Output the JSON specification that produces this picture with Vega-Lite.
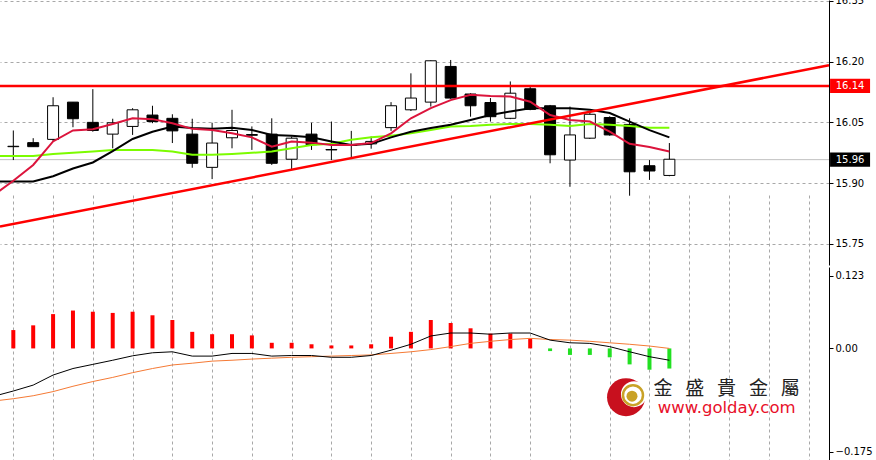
{
  "$schema": "https://vega.github.io/schema/vega-lite/v6.json",
  "width": 829,
  "height": 460,
  "autosize": {"type": "none"},
  "padding": {"left": 0, "top": 0, "right": 47, "bottom": 0},
  "background": "white",
  "config": {
    "view": {"stroke": null},
    "axis": {"labelFont": "DejaVu Sans", "labelFontSize": 10, "labelColor": "#000000", "domainColor": "#000000", "tickColor": "#000000", "tickSize": 4, "labelPadding": 2, "gridColor": "#a8a8a8", "gridDash": [3, 3], "domainWidth": 1, "tickWidth": 1},
    "axisX": {"labels": false, "ticks": false, "domain": false, "grid": true}
  },
  "datasets": {
    "candles": [
      {"i": 0, "o": 15.990, "h": 16.030, "l": 15.957, "c": 15.991},
      {"i": 1, "o": 16.000, "h": 16.011, "l": 15.990, "c": 15.990},
      {"i": 2, "o": 16.008, "h": 16.112, "l": 16.003, "c": 16.091},
      {"i": 3, "o": 16.100, "h": 16.100, "l": 16.038, "c": 16.059},
      {"i": 4, "o": 16.050, "h": 16.132, "l": 16.027, "c": 16.030},
      {"i": 5, "o": 16.021, "h": 16.059, "l": 15.986, "c": 16.049},
      {"i": 6, "o": 16.040, "h": 16.085, "l": 16.019, "c": 16.081},
      {"i": 7, "o": 16.068, "h": 16.091, "l": 16.048, "c": 16.052},
      {"i": 8, "o": 16.060, "h": 16.070, "l": 15.999, "c": 16.029},
      {"i": 9, "o": 16.021, "h": 16.059, "l": 15.938, "c": 15.949},
      {"i": 10, "o": 15.939, "h": 16.049, "l": 15.910, "c": 15.999},
      {"i": 11, "o": 16.012, "h": 16.081, "l": 15.986, "c": 16.030},
      {"i": 12, "o": 16.018, "h": 16.040, "l": 15.982, "c": 16.020},
      {"i": 13, "o": 16.021, "h": 16.060, "l": 15.945, "c": 15.949},
      {"i": 14, "o": 15.959, "h": 16.015, "l": 15.934, "c": 16.011},
      {"i": 15, "o": 16.021, "h": 16.049, "l": 15.982, "c": 15.995},
      {"i": 16, "o": 15.982, "h": 16.052, "l": 15.957, "c": 15.983},
      {"i": 17, "o": 15.993, "h": 16.029, "l": 15.962, "c": 15.995},
      {"i": 18, "o": 15.997, "h": 16.015, "l": 15.985, "c": 16.003},
      {"i": 19, "o": 16.037, "h": 16.100, "l": 16.029, "c": 16.091},
      {"i": 20, "o": 16.081, "h": 16.171, "l": 16.078, "c": 16.110},
      {"i": 21, "o": 16.100, "h": 16.203, "l": 16.089, "c": 16.202},
      {"i": 22, "o": 16.188, "h": 16.204, "l": 16.108, "c": 16.110},
      {"i": 23, "o": 16.120, "h": 16.122, "l": 16.064, "c": 16.091},
      {"i": 24, "o": 16.099, "h": 16.110, "l": 16.052, "c": 16.064},
      {"i": 25, "o": 16.060, "h": 16.151, "l": 16.058, "c": 16.122},
      {"i": 26, "o": 16.133, "h": 16.138, "l": 16.080, "c": 16.082},
      {"i": 27, "o": 16.091, "h": 16.093, "l": 15.949, "c": 15.970},
      {"i": 28, "o": 15.957, "h": 16.089, "l": 15.891, "c": 16.019},
      {"i": 29, "o": 16.011, "h": 16.075, "l": 16.009, "c": 16.070},
      {"i": 30, "o": 16.062, "h": 16.065, "l": 16.017, "c": 16.019},
      {"i": 31, "o": 16.045, "h": 16.060, "l": 15.869, "c": 15.928},
      {"i": 32, "o": 15.943, "h": 15.957, "l": 15.908, "c": 15.930},
      {"i": 33, "o": 15.919, "h": 15.999, "l": 15.917, "c": 15.959}
    ],
    "ma": [
      {"i": -1, "red": 15.870, "black": 15.904, "green": 15.967},
      {"i": 0, "red": 15.906, "black": 15.904, "green": 15.967},
      {"i": 1, "red": 15.945, "black": 15.904, "green": 15.967},
      {"i": 2, "red": 16.003, "black": 15.917, "green": 15.972},
      {"i": 3, "red": 16.030, "black": 15.936, "green": 15.975},
      {"i": 4, "red": 16.033, "black": 15.951, "green": 15.978},
      {"i": 5, "red": 16.046, "black": 15.979, "green": 15.982},
      {"i": 6, "red": 16.060, "black": 16.009, "green": 15.982},
      {"i": 7, "red": 16.058, "black": 16.027, "green": 15.982},
      {"i": 8, "red": 16.048, "black": 16.040, "green": 15.978},
      {"i": 9, "red": 16.034, "black": 16.036, "green": 15.970},
      {"i": 10, "red": 16.031, "black": 16.034, "green": 15.970},
      {"i": 11, "red": 16.023, "black": 16.037, "green": 15.972},
      {"i": 12, "red": 16.013, "black": 16.031, "green": 15.975},
      {"i": 13, "red": 15.990, "black": 16.019, "green": 15.978},
      {"i": 14, "red": 16.003, "black": 16.017, "green": 15.986},
      {"i": 15, "red": 16.000, "black": 16.013, "green": 15.994},
      {"i": 16, "red": 15.994, "black": 16.003, "green": 15.997},
      {"i": 17, "red": 15.994, "black": 15.994, "green": 16.007},
      {"i": 18, "red": 15.999, "black": 15.997, "green": 16.013},
      {"i": 19, "red": 16.023, "black": 16.013, "green": 16.017},
      {"i": 20, "red": 16.060, "black": 16.027, "green": 16.023},
      {"i": 21, "red": 16.085, "black": 16.036, "green": 16.031},
      {"i": 22, "red": 16.105, "black": 16.044, "green": 16.040},
      {"i": 23, "red": 16.118, "black": 16.056, "green": 16.041},
      {"i": 24, "red": 16.115, "black": 16.068, "green": 16.044},
      {"i": 25, "red": 16.114, "black": 16.077, "green": 16.046},
      {"i": 26, "red": 16.101, "black": 16.085, "green": 16.046},
      {"i": 27, "red": 16.068, "black": 16.085, "green": 16.044},
      {"i": 28, "red": 16.056, "black": 16.085, "green": 16.041},
      {"i": 29, "red": 16.052, "black": 16.081, "green": 16.046},
      {"i": 30, "red": 16.027, "black": 16.073, "green": 16.044},
      {"i": 31, "red": 15.997, "black": 16.052, "green": 16.041},
      {"i": 32, "red": 15.989, "black": 16.031, "green": 16.037},
      {"i": 33, "red": 15.978, "black": 16.013, "green": 16.037}
    ],
    "macd": [
      {"i": -1, "h": null, "m": -0.081, "s": -0.089},
      {"i": 0, "h": 0.031, "m": -0.072, "s": -0.085},
      {"i": 1, "h": 0.039, "m": -0.062, "s": -0.080},
      {"i": 2, "h": 0.058, "m": -0.045, "s": -0.073},
      {"i": 3, "h": 0.064, "m": -0.034, "s": -0.064},
      {"i": 4, "h": 0.062, "m": -0.027, "s": -0.056},
      {"i": 5, "h": 0.060, "m": -0.020, "s": -0.049},
      {"i": 6, "h": 0.062, "m": -0.0125, "s": -0.041},
      {"i": 7, "h": 0.056, "m": -0.0074, "s": -0.034},
      {"i": 8, "h": 0.048, "m": -0.0057, "s": -0.028},
      {"i": 9, "h": 0.028, "m": -0.013, "s": -0.025},
      {"i": 10, "h": 0.024, "m": -0.013, "s": -0.0215},
      {"i": 11, "h": 0.024, "m": -0.0085, "s": -0.020},
      {"i": 12, "h": 0.022, "m": -0.0085, "s": -0.018},
      {"i": 13, "h": 0.0095, "m": -0.013, "s": -0.0165},
      {"i": 14, "h": 0.0095, "m": -0.012, "s": -0.015},
      {"i": 15, "h": 0.007, "m": -0.012, "s": -0.014},
      {"i": 16, "h": 0.005, "m": -0.015, "s": -0.013},
      {"i": 17, "h": 0.005, "m": -0.015, "s": -0.012},
      {"i": 18, "h": 0.007, "m": -0.012, "s": -0.011},
      {"i": 19, "h": 0.0197, "m": -0.003, "s": -0.0085},
      {"i": 20, "h": 0.028, "m": 0.007, "s": -0.0057},
      {"i": 21, "h": 0.048, "m": 0.021, "s": -0.002},
      {"i": 22, "h": 0.043, "m": 0.026, "s": 0.003},
      {"i": 23, "h": 0.034, "m": 0.026, "s": 0.0085},
      {"i": 24, "h": 0.025, "m": 0.024, "s": 0.012},
      {"i": 25, "h": 0.025, "m": 0.026, "s": 0.015},
      {"i": 26, "h": 0.017, "m": 0.026, "s": 0.017},
      {"i": 27, "h": -0.0045, "m": 0.014, "s": 0.015},
      {"i": 28, "h": -0.011, "m": 0.0095, "s": 0.014},
      {"i": 29, "h": -0.011, "m": 0.0085, "s": 0.012},
      {"i": 30, "h": -0.015, "m": 0.003, "s": 0.0095},
      {"i": 31, "h": -0.027, "m": -0.0057, "s": 0.007},
      {"i": 32, "h": -0.036, "m": -0.014, "s": 0.004},
      {"i": 33, "h": -0.034, "m": -0.020, "s": 0.000}
    ],
    "trend": [
      {"i": -0.67, "p": 15.793},
      {"i": 41.03, "p": 16.191}
    ],
    "levels": [
      {"price": 16.14, "label": "16.14", "kind": "res"},
      {"price": 15.958, "label": "15.96", "kind": "last"}
    ],
    "brand": [
      {"part": "name", "text": "金\u00a0\u00a0\u00a0盛\u00a0\u00a0\u00a0貴\u00a0\u00a0\u00a0金\u00a0\u00a0\u00a0屬"},
      {"part": "url", "text": "www.golday.com"}
    ]
  },
  "layer": [
    {
      "layer": [
        {
          "data": {"name": "levels"},
          "transform": [{"filter": "datum.kind == 'last'"}],
          "mark": {"type": "rule", "color": "#c0c0c0", "strokeWidth": 1},
          "encoding": {
            "y": {"field": "price", "type": "quantitative", "scale": {"domain": [15.698, 16.352], "range": [265, 0], "nice": false, "zero": false}, "axis": {"orient": "right", "values": [16.35, 16.2, 16.05, 15.9, 15.75], "format": ".2f", "title": null, "grid": true}}
          }
        },
        {
          "data": {"name": "candles"},
          "mark": {"type": "rule", "color": "#000000", "strokeWidth": 1},
          "encoding": {
            "x": {"field": "i", "type": "quantitative", "scale": {"domain": [-0.67, 41.03], "nice": false, "zero": false, "padding": 0}, "axis": {"values": [0, 2, 4, 6, 8, 10, 12, 14, 16, 18, 20, 22, 24, 26, 28, 30, 32, 34, 36, 38, 40], "title": null}},
            "y": {"field": "l", "type": "quantitative", "scale": {"domain": [15.698, 16.352], "range": [265, 0], "nice": false, "zero": false}, "axis": {"orient": "right", "values": [16.35, 16.2, 16.05, 15.9, 15.75], "format": ".2f", "title": null, "grid": true}},
            "y2": {"field": "h"}
          }
        },
        {
          "data": {"name": "candles"},
          "mark": {"type": "bar", "size": 11, "stroke": "#000000", "strokeWidth": 1},
          "encoding": {
            "x": {"field": "i", "type": "quantitative", "scale": {"domain": [-0.67, 41.03], "nice": false, "zero": false, "padding": 0}, "axis": {"values": [0, 2, 4, 6, 8, 10, 12, 14, 16, 18, 20, 22, 24, 26, 28, 30, 32, 34, 36, 38, 40], "title": null}},
            "y": {"field": "o", "type": "quantitative", "scale": {"domain": [15.698, 16.352], "range": [265, 0], "nice": false, "zero": false}, "axis": {"orient": "right", "values": [16.35, 16.2, 16.05, 15.9, 15.75], "format": ".2f", "title": null, "grid": true}},
            "y2": {"field": "c"},
            "fill": {"condition": {"test": "datum.c >= datum.o", "value": "#ffffff"}, "value": "#000000"}
          }
        },
        {
          "data": {"name": "ma"},
          "mark": {"type": "line", "color": "#7cfc00", "strokeWidth": 2},
          "encoding": {
            "x": {"field": "i", "type": "quantitative", "scale": {"domain": [-0.67, 41.03], "nice": false, "zero": false, "padding": 0}, "axis": {"values": [0, 2, 4, 6, 8, 10, 12, 14, 16, 18, 20, 22, 24, 26, 28, 30, 32, 34, 36, 38, 40], "title": null}},
            "y": {"field": "green", "type": "quantitative", "scale": {"domain": [15.698, 16.352], "range": [265, 0], "nice": false, "zero": false}, "axis": {"orient": "right", "values": [16.35, 16.2, 16.05, 15.9, 15.75], "format": ".2f", "title": null, "grid": true}}
          }
        },
        {
          "data": {"name": "ma"},
          "mark": {"type": "line", "color": "#000000", "strokeWidth": 2},
          "encoding": {
            "x": {"field": "i", "type": "quantitative", "scale": {"domain": [-0.67, 41.03], "nice": false, "zero": false, "padding": 0}, "axis": {"values": [0, 2, 4, 6, 8, 10, 12, 14, 16, 18, 20, 22, 24, 26, 28, 30, 32, 34, 36, 38, 40], "title": null}},
            "y": {"field": "black", "type": "quantitative", "scale": {"domain": [15.698, 16.352], "range": [265, 0], "nice": false, "zero": false}, "axis": {"orient": "right", "values": [16.35, 16.2, 16.05, 15.9, 15.75], "format": ".2f", "title": null, "grid": true}}
          }
        },
        {
          "data": {"name": "ma"},
          "mark": {"type": "line", "color": "#dc143c", "strokeWidth": 2},
          "encoding": {
            "x": {"field": "i", "type": "quantitative", "scale": {"domain": [-0.67, 41.03], "nice": false, "zero": false, "padding": 0}, "axis": {"values": [0, 2, 4, 6, 8, 10, 12, 14, 16, 18, 20, 22, 24, 26, 28, 30, 32, 34, 36, 38, 40], "title": null}},
            "y": {"field": "red", "type": "quantitative", "scale": {"domain": [15.698, 16.352], "range": [265, 0], "nice": false, "zero": false}, "axis": {"orient": "right", "values": [16.35, 16.2, 16.05, 15.9, 15.75], "format": ".2f", "title": null, "grid": true}}
          }
        },
        {
          "data": {"name": "trend"},
          "mark": {"type": "line", "color": "#ff0000", "strokeWidth": 2.5},
          "encoding": {
            "x": {"field": "i", "type": "quantitative", "scale": {"domain": [-0.67, 41.03], "nice": false, "zero": false, "padding": 0}, "axis": {"values": [0, 2, 4, 6, 8, 10, 12, 14, 16, 18, 20, 22, 24, 26, 28, 30, 32, 34, 36, 38, 40], "title": null}},
            "y": {"field": "p", "type": "quantitative", "scale": {"domain": [15.698, 16.352], "range": [265, 0], "nice": false, "zero": false}, "axis": {"orient": "right", "values": [16.35, 16.2, 16.05, 15.9, 15.75], "format": ".2f", "title": null, "grid": true}}
          }
        },
        {
          "data": {"name": "levels"},
          "transform": [{"filter": "datum.kind == 'res'"}],
          "mark": {"type": "rule", "color": "#ff0000", "strokeWidth": 2.5},
          "encoding": {
            "y": {"field": "price", "type": "quantitative", "scale": {"domain": [15.698, 16.352], "range": [265, 0], "nice": false, "zero": false}, "axis": {"orient": "right", "values": [16.35, 16.2, 16.05, 15.9, 15.75], "format": ".2f", "title": null, "grid": true}}
          }
        },
        {
          "data": {"name": "levels"},
          "mark": {"type": "point", "shape": "M-1,-0.36H1V0.36H-1Z", "size": 1600, "filled": true, "opacity": 1, "strokeWidth": 0},
          "encoding": {
            "x": {"datum": 42.09, "type": "quantitative", "scale": {"domain": [-0.67, 41.03], "nice": false, "zero": false, "padding": 0}, "axis": {"values": [0, 2, 4, 6, 8, 10, 12, 14, 16, 18, 20, 22, 24, 26, 28, 30, 32, 34, 36, 38, 40], "title": null}},
            "y": {"field": "price", "type": "quantitative", "scale": {"domain": [15.698, 16.352], "range": [265, 0], "nice": false, "zero": false}, "axis": {"orient": "right", "values": [16.35, 16.2, 16.05, 15.9, 15.75], "format": ".2f", "title": null, "grid": true}},
            "fill": {"condition": {"test": "datum.kind == 'res'", "value": "#ff0000"}, "value": "#000000"}
          }
        },
        {
          "data": {"name": "levels"},
          "mark": {"type": "text", "color": "#ffffff", "font": "DejaVu Sans", "fontSize": 10, "align": "center", "baseline": "middle"},
          "encoding": {
            "x": {"datum": 42.09, "type": "quantitative", "scale": {"domain": [-0.67, 41.03], "nice": false, "zero": false, "padding": 0}, "axis": {"values": [0, 2, 4, 6, 8, 10, 12, 14, 16, 18, 20, 22, 24, 26, 28, 30, 32, 34, 36, 38, 40], "title": null}},
            "y": {"field": "price", "type": "quantitative", "scale": {"domain": [15.698, 16.352], "range": [265, 0], "nice": false, "zero": false}, "axis": {"orient": "right", "values": [16.35, 16.2, 16.05, 15.9, 15.75], "format": ".2f", "title": null, "grid": true}},
            "text": {"field": "label"}
          }
        },
        {
          "mark": {"type": "rule", "color": "#000000", "strokeWidth": 1},
          "encoding": {
            "y": {"datum": 15.698, "type": "quantitative", "scale": {"domain": [15.698, 16.352], "range": [265, 0], "nice": false, "zero": false}, "axis": {"orient": "right", "values": [16.35, 16.2, 16.05, 15.9, 15.75], "format": ".2f", "title": null, "grid": true}}
          }
        }
      ]
    },
    {
      "layer": [
        {
          "mark": {"type": "rule", "color": "#a8a8a8", "strokeDash": [3, 3], "strokeWidth": 1},
          "encoding": {
            "y": {"datum": 0, "type": "quantitative", "scale": {"domain": [-0.1886, 0.1376], "range": [460, 267], "nice": false, "zero": false}, "axis": {"orient": "right", "values": [0.123, 0, -0.175], "labelExpr": "datum.value == 0 ? '0.00' : format(datum.value, '.3f')", "title": null, "grid": false}}
          }
        },
        {
          "mark": {"type": "rule", "color": "#000000", "strokeWidth": 1},
          "encoding": {
            "y": {"datum": 0.1376, "type": "quantitative", "scale": {"domain": [-0.1886, 0.1376], "range": [460, 267], "nice": false, "zero": false}, "axis": {"orient": "right", "values": [0.123, 0, -0.175], "labelExpr": "datum.value == 0 ? '0.00' : format(datum.value, '.3f')", "title": null, "grid": false}}
          }
        },
        {
          "data": {"name": "macd"},
          "transform": [{"filter": "datum.h != null"}],
          "mark": {"type": "bar", "size": 4},
          "encoding": {
            "x": {"field": "i", "type": "quantitative", "scale": {"domain": [-0.67, 41.03], "nice": false, "zero": false, "padding": 0}, "axis": {"values": [0, 2, 4, 6, 8, 10, 12, 14, 16, 18, 20, 22, 24, 26, 28, 30, 32, 34, 36, 38, 40], "title": null}},
            "y": {"field": "h", "type": "quantitative", "scale": {"domain": [-0.1886, 0.1376], "range": [460, 267], "nice": false, "zero": false}, "axis": {"orient": "right", "values": [0.123, 0, -0.175], "labelExpr": "datum.value == 0 ? '0.00' : format(datum.value, '.3f')", "title": null, "grid": false}},
            "y2": {"datum": 0},
            "color": {"condition": {"test": "datum.h > 0", "value": "#ff0000"}, "value": "#22e022"}
          }
        },
        {
          "data": {"name": "macd"},
          "mark": {"type": "line", "color": "#f57a35", "strokeWidth": 1},
          "encoding": {
            "x": {"field": "i", "type": "quantitative", "scale": {"domain": [-0.67, 41.03], "nice": false, "zero": false, "padding": 0}, "axis": {"values": [0, 2, 4, 6, 8, 10, 12, 14, 16, 18, 20, 22, 24, 26, 28, 30, 32, 34, 36, 38, 40], "title": null}},
            "y": {"field": "s", "type": "quantitative", "scale": {"domain": [-0.1886, 0.1376], "range": [460, 267], "nice": false, "zero": false}, "axis": {"orient": "right", "values": [0.123, 0, -0.175], "labelExpr": "datum.value == 0 ? '0.00' : format(datum.value, '.3f')", "title": null, "grid": false}}
          }
        },
        {
          "data": {"name": "macd"},
          "mark": {"type": "line", "color": "#000000", "strokeWidth": 1},
          "encoding": {
            "x": {"field": "i", "type": "quantitative", "scale": {"domain": [-0.67, 41.03], "nice": false, "zero": false, "padding": 0}, "axis": {"values": [0, 2, 4, 6, 8, 10, 12, 14, 16, 18, 20, 22, 24, 26, 28, 30, 32, 34, 36, 38, 40], "title": null}},
            "y": {"field": "m", "type": "quantitative", "scale": {"domain": [-0.1886, 0.1376], "range": [460, 267], "nice": false, "zero": false}, "axis": {"orient": "right", "values": [0.123, 0, -0.175], "labelExpr": "datum.value == 0 ? '0.00' : format(datum.value, '.3f')", "title": null, "grid": false}}
          }
        },
        {
          "data": {"values": [{"logo": "golday"}]},
          "mark": {"type": "point", "shape": "circle", "size": 1444, "filled": true, "color": "#c8101e", "opacity": 1},
          "encoding": {
            "x": {"datum": 30.82, "type": "quantitative", "scale": {"domain": [-0.67, 41.03], "nice": false, "zero": false, "padding": 0}, "axis": {"values": [0, 2, 4, 6, 8, 10, 12, 14, 16, 18, 20, 22, 24, 26, 28, 30, 32, 34, 36, 38, 40], "title": null}},
            "y": {"datum": -0.0824, "type": "quantitative", "scale": {"domain": [-0.1886, 0.1376], "range": [460, 267], "nice": false, "zero": false}, "axis": {"orient": "right", "values": [0.123, 0, -0.175], "labelExpr": "datum.value == 0 ? '0.00' : format(datum.value, '.3f')", "title": null, "grid": false}}
          }
        },
        {
          "data": {"values": [{"logo": "golday"}]},
          "mark": {"type": "point", "shape": "circle", "size": 676, "filled": true, "color": "#ffffff", "opacity": 1},
          "encoding": {
            "x": {"datum": 31.22, "type": "quantitative", "scale": {"domain": [-0.67, 41.03], "nice": false, "zero": false, "padding": 0}, "axis": {"values": [0, 2, 4, 6, 8, 10, 12, 14, 16, 18, 20, 22, 24, 26, 28, 30, 32, 34, 36, 38, 40], "title": null}},
            "y": {"datum": -0.0773, "type": "quantitative", "scale": {"domain": [-0.1886, 0.1376], "range": [460, 267], "nice": false, "zero": false}, "axis": {"orient": "right", "values": [0.123, 0, -0.175], "labelExpr": "datum.value == 0 ? '0.00' : format(datum.value, '.3f')", "title": null, "grid": false}}
          }
        },
        {
          "data": {"values": [{"logo": "golday"}]},
          "mark": {"type": "point", "shape": "circle", "size": 400, "filled": false, "stroke": "#c9a227", "strokeWidth": 2.5, "opacity": 1},
          "encoding": {
            "x": {"datum": 31.17, "type": "quantitative", "scale": {"domain": [-0.67, 41.03], "nice": false, "zero": false, "padding": 0}, "axis": {"values": [0, 2, 4, 6, 8, 10, 12, 14, 16, 18, 20, 22, 24, 26, 28, 30, 32, 34, 36, 38, 40], "title": null}},
            "y": {"datum": -0.079, "type": "quantitative", "scale": {"domain": [-0.1886, 0.1376], "range": [460, 267], "nice": false, "zero": false}, "axis": {"orient": "right", "values": [0.123, 0, -0.175], "labelExpr": "datum.value == 0 ? '0.00' : format(datum.value, '.3f')", "title": null, "grid": false}}
          }
        },
        {
          "data": {"values": [{"logo": "golday"}]},
          "mark": {"type": "point", "shape": "circle", "size": 121, "filled": true, "color": "#c9a227", "opacity": 1},
          "encoding": {
            "x": {"datum": 31.12, "type": "quantitative", "scale": {"domain": [-0.67, 41.03], "nice": false, "zero": false, "padding": 0}, "axis": {"values": [0, 2, 4, 6, 8, 10, 12, 14, 16, 18, 20, 22, 24, 26, 28, 30, 32, 34, 36, 38, 40], "title": null}},
            "y": {"datum": -0.0807, "type": "quantitative", "scale": {"domain": [-0.1886, 0.1376], "range": [460, 267], "nice": false, "zero": false}, "axis": {"orient": "right", "values": [0.123, 0, -0.175], "labelExpr": "datum.value == 0 ? '0.00' : format(datum.value, '.3f')", "title": null, "grid": false}}
          }
        },
        {
          "data": {"name": "brand"},
          "transform": [{"filter": "datum.part == 'name'"}],
          "mark": {"type": "text", "font": "Noto Sans CJK TC", "fontSize": 19, "color": "#222222", "align": "center", "baseline": "middle"},
          "encoding": {
            "x": {"datum": 35.88, "type": "quantitative", "scale": {"domain": [-0.67, 41.03], "nice": false, "zero": false, "padding": 0}, "axis": {"values": [0, 2, 4, 6, 8, 10, 12, 14, 16, 18, 20, 22, 24, 26, 28, 30, 32, 34, 36, 38, 40], "title": null}},
            "y": {"datum": -0.0689, "type": "quantitative", "scale": {"domain": [-0.1886, 0.1376], "range": [460, 267], "nice": false, "zero": false}, "axis": {"orient": "right", "values": [0.123, 0, -0.175], "labelExpr": "datum.value == 0 ? '0.00' : format(datum.value, '.3f')", "title": null, "grid": false}},
            "text": {"field": "text"}
          }
        },
        {
          "data": {"name": "brand"},
          "transform": [{"filter": "datum.part == 'url'"}],
          "mark": {"type": "text", "font": "DejaVu Sans", "fontSize": 16.5, "color": "#e8102a", "align": "center", "baseline": "alphabetic"},
          "encoding": {
            "x": {"datum": 35.88, "type": "quantitative", "scale": {"domain": [-0.67, 41.03], "nice": false, "zero": false, "padding": 0}, "axis": {"values": [0, 2, 4, 6, 8, 10, 12, 14, 16, 18, 20, 22, 24, 26, 28, 30, 32, 34, 36, 38, 40], "title": null}},
            "y": {"datum": -0.1095, "type": "quantitative", "scale": {"domain": [-0.1886, 0.1376], "range": [460, 267], "nice": false, "zero": false}, "axis": {"orient": "right", "values": [0.123, 0, -0.175], "labelExpr": "datum.value == 0 ? '0.00' : format(datum.value, '.3f')", "title": null, "grid": false}},
            "text": {"field": "text"}
          }
        }
      ]
    }
  ],
  "resolve": {"scale": {"y": "independent"}, "axis": {"y": "independent"}}
}
